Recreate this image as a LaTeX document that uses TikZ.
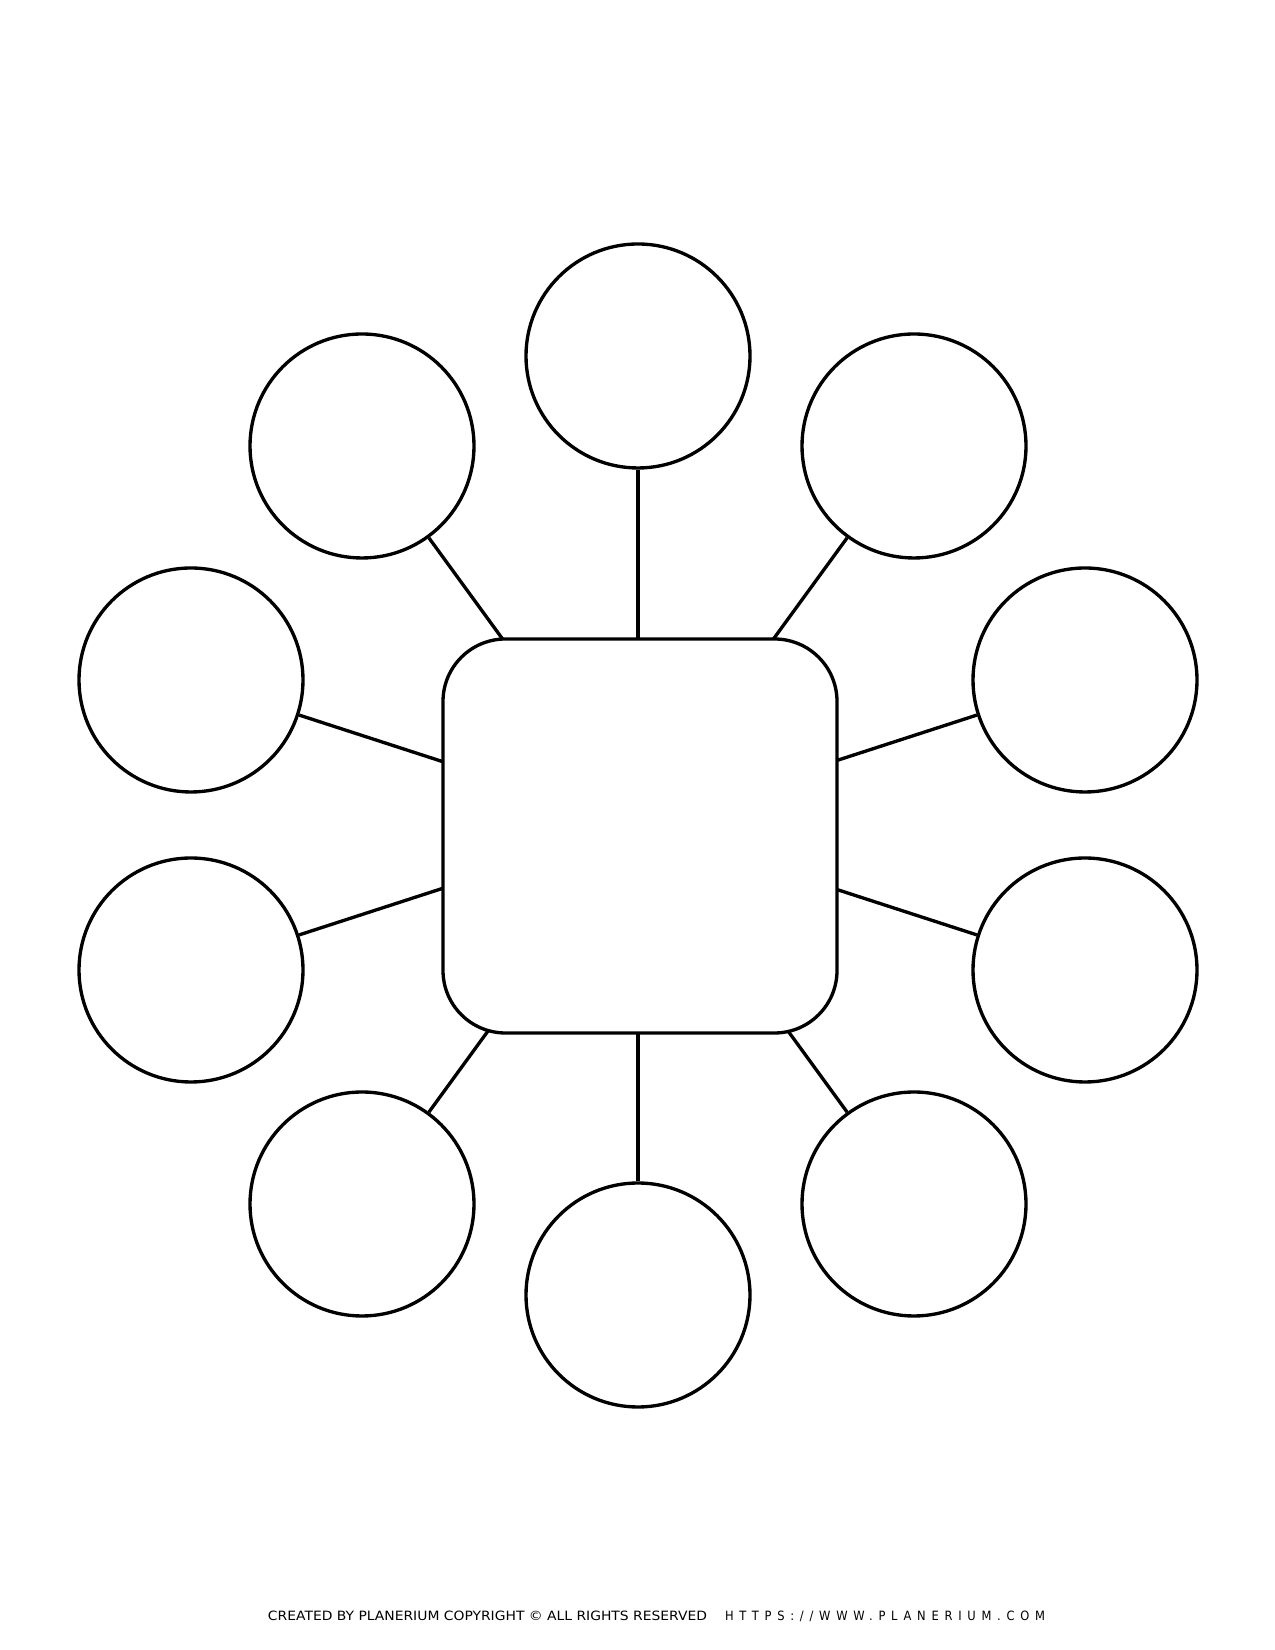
\documentclass[tikz,border=0pt]{standalone}
\usepackage{fontspec}
\usepackage{graphicx}
\newfontfamily\footfont{DejaVu Sans}
\newfontfamily\urlfont[LetterSpace=50]{DejaVu Sans}
\tikzset{
  bubble/.style={circle, draw=black, line width=1.9pt, minimum size=4.48cm, inner sep=0pt},
  hubbox/.style={rectangle, draw=black, fill=white, rounded corners=1.25cm, line width=1.9pt, minimum size=7.88cm, inner sep=0pt},
  spoke/.style={draw=black, line width=1.9pt},
  foot/.style={inner sep=0pt, anchor=base}
}
\begin{document}
\begin{tikzpicture}
\fill[white] (0,0) rectangle (25.5,33);
\useasboundingbox (0,0) rectangle (25.5,33);
% circles
\node[bubble] (top) at (12.76,25.88) {};
\node[bubble] (tl)  at (7.24,24.08) {};
\node[bubble] (tr)  at (18.28,24.08) {};
\node[bubble] (lu)  at (3.82,19.40) {};
\node[bubble] (ru)  at (21.70,19.40) {};
\node[bubble] (ll)  at (3.82,13.60) {};
\node[bubble] (rl)  at (21.70,13.60) {};
\node[bubble] (bl)  at (7.24,8.92) {};
\node[bubble] (br)  at (18.28,8.92) {};
\node[bubble] (bot) at (12.76,7.10) {};
\coordinate (hub) at (12.76,16.50);
% spokes
\foreach \c in {top,tl,tr,lu,ru,ll,rl,bl,br,bot}
  \draw[spoke] (\c) -- (hub);
% central box
\node[hubbox] (sq) at (12.80,16.28) {};
% footer
\node[foot] (credit) at (9.75,0.58) {\resizebox{8.78cm}{0.19cm}{\footfont CREATED BY PLANERIUM COPYRIGHT © ALL RIGHTS RESERVED}};
\node[foot] (url) at (17.70,0.58) {\resizebox{6.4cm}{0.19cm}{\urlfont HTTPS://WWW.PLANERIUM.COM}};
\end{tikzpicture}
\end{document}
